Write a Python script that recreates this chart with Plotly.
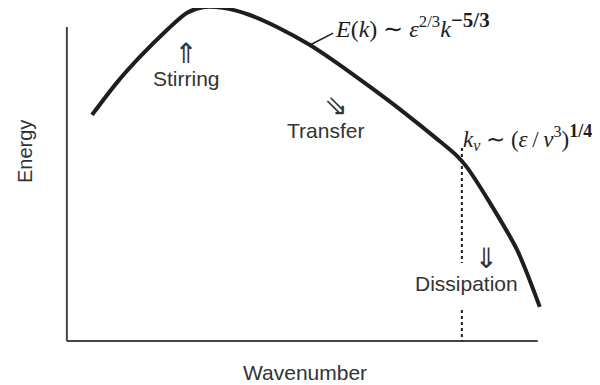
import plotly.graph_objects as go

# energy spectrum sketch, arbitrary units (x: wavenumber, y: energy)
wavenumber = [0.51, 1.01, 1.48, 2.03, 2.43, 2.76, 3.16, 3.71, 4.26, 4.93, 5.48, 6.15, 6.82, 7.51, 7.91, 8.11, 8.58, 9.13, 9.59]
energy = [6.63, 7.57, 8.33, 9.12, 9.62, 9.79, 9.77, 9.56, 9.21, 8.68, 8.15, 7.45, 6.72, 5.92, 5.43, 5.10, 4.05, 2.67, 1.00]

k_nu = 8.01          # Kolmogorov cutoff
k_nu_top = 5.66
axis_x_end = 9.55
axis_y_end = 9.21

ink = "#1e1e1e"
grey = "#333333"

fig = go.Figure()
fig.add_trace(go.Scatter(
    x=wavenumber, y=energy, mode="lines",
    line=dict(color=ink, width=4, shape="spline", smoothing=0.8),
    hoverinfo="skip", showlegend=False,
))

# axes drawn by hand (the curve pokes above the y axis)
fig.add_shape(type="line", x0=0, y0=0, x1=0, y1=axis_y_end, line=dict(color="#444", width=2))
fig.add_shape(type="line", x0=0, y0=0, x1=axis_x_end, y1=0, line=dict(color="#444", width=2))

# dotted cutoff line, broken around the label
fig.add_shape(type="line", x0=k_nu, y0=k_nu_top, x1=k_nu, y1=2.29, line=dict(color=ink, width=2, dash="dot"))
fig.add_shape(type="line", x0=k_nu, y0=0.91, x1=k_nu, y1=0, line=dict(color=ink, width=2, dash="dot"))

# leader for the spectrum label
fig.add_shape(type="line", x0=4.93, y0=8.68, x1=5.40, y1=9.03, line=dict(color=ink, width=1.5))

sans = dict(family="Liberation Sans, Arial, sans-serif", size=18, color=grey)
serif = dict(family="Liberation Serif, Times New Roman, serif", size=24, color=ink)
thin = "\u2009"


def stacked(ch, label, pad=0):
    return ("&nbsp;" * pad + "<span style='font-family:DejaVu Sans;font-size:28px'>" + ch + "</span>"
            + "<br><span style='font-size:21px'>" + label + "</span>")


notes = [
    (2.43, 8.13, stacked("⇑", "Stirring"), sans, 1),
    (5.25, 6.61, stacked("⇘", "Transfer", 4), sans, 1),
    (8.11, 2.12, stacked("⇓", "Dissipation", 8), sans, 1),
    (5.40, 9.27, "<i>E</i>(<i>k</i>)&nbsp;∼&nbsp;<i>ε</i><sup>2/3</sup><i>k</i>"
                 "<sup><span style='font-size:21px'><b>−5/3</b></span></sup>", serif, 0),
    (7.99, 5.98, "<i>k<sub>ν</sub></i>&nbsp;∼&nbsp;(<i>ε</i>" + thin + "/" + thin + "<i>ν</i><sup>3</sup>)"
                 "<sup><span style='font-size:18px'><b>1/4</b></span></sup>", dict(serif, size=23), 0),
]
for x, y, txt, f, centred in notes:
    fig.add_annotation(x=x, y=y, text=txt, showarrow=False, font=f,
                       xanchor="center" if centred else "left", yanchor="middle")

fig.add_annotation(xref="paper", yref="paper", x=-0.0636, y=0.58, text="Energy", textangle=-90,
                   showarrow=False, font=dict(sans, size=20), xanchor="center", yanchor="middle")
fig.add_annotation(xref="paper", yref="paper", x=0.493, y=-0.064, text="Wavenumber",
                   showarrow=False, font=dict(sans, size=21), xanchor="center", yanchor="middle")

fig.update_xaxes(range=[-0.2, 10.0], visible=False)
fig.update_yaxes(range=[-0.293, 9.765], visible=False)
# page body has an 8px margin, so the figure is shrunk to fit the window
fig.update_layout(
    width=592, height=377,
    margin=dict(l=49, r=40, t=0, b=34),
    plot_bgcolor="white", paper_bgcolor="white",
)

fig.write_html("out.html")
